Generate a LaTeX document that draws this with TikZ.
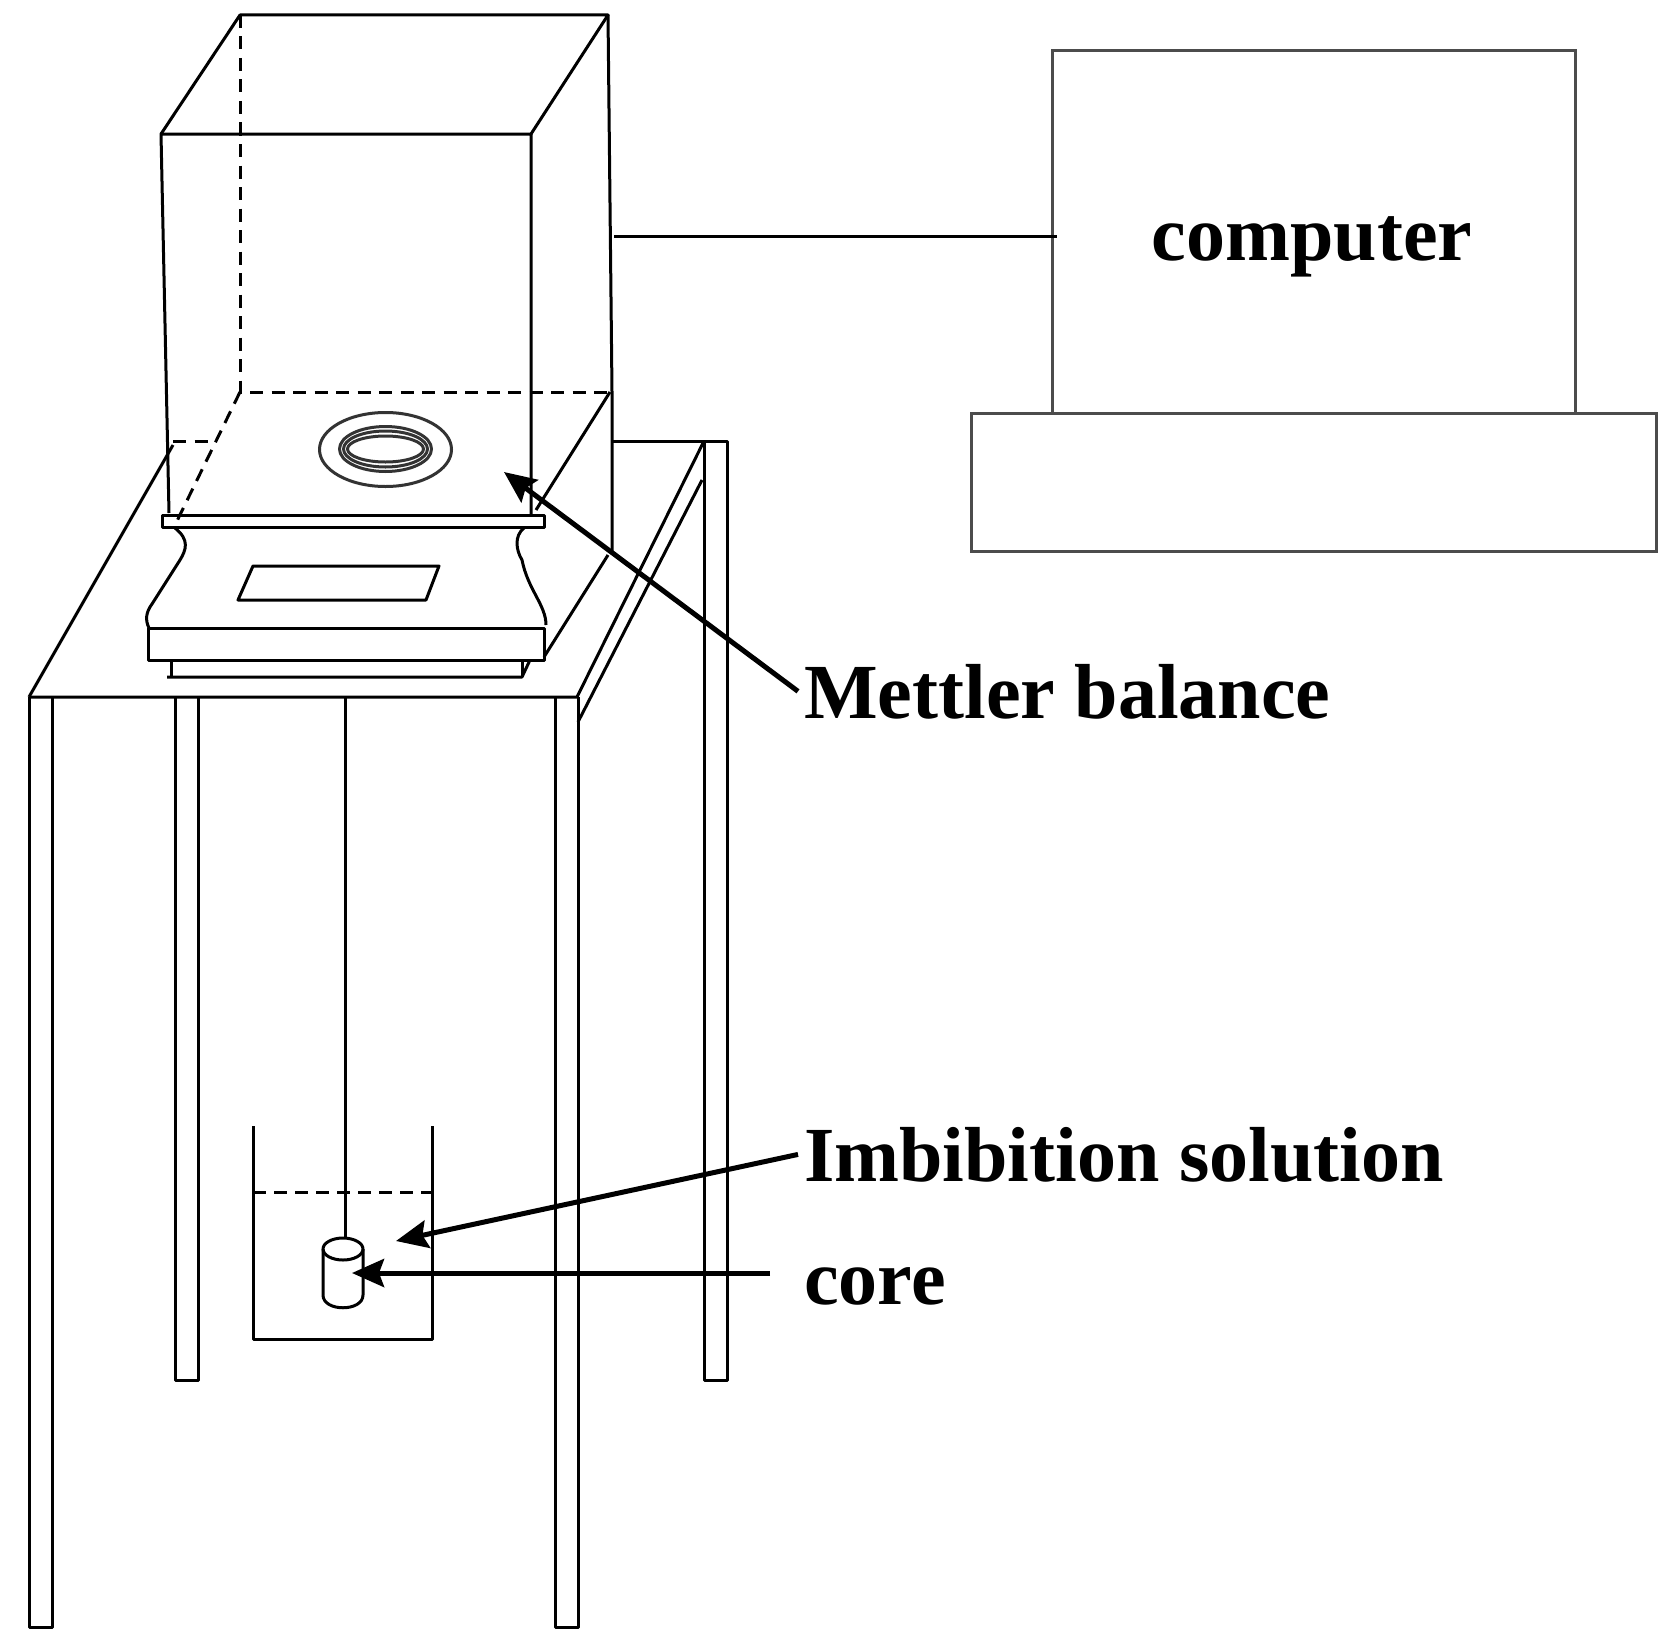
\documentclass[tikz,border=0pt]{standalone}
\usepackage{fontspec}
\setmainfont{Liberation Serif}
\usetikzlibrary{arrows.meta}
\tikzset{
  line/.style={line width=3pt,line join=round},
  greyline/.style={line width=3pt,draw=black!70,outer sep=0pt},
  bigarrow/.style={line width=5pt,-{Stealth[length=32pt,width=28pt,inset=5pt]}},
  label/.style={inner sep=6pt,font=\fontsize{78}{78}\selectfont\bfseries},
  floordash/.style={line,dash pattern=on 13pt off 8.5pt}
}
\begin{document}
\begin{tikzpicture}[x=1pt,y=-1pt]
\useasboundingbox (0,0) rectangle (1669,1643);

% Glass box of the balance
\coordinate (b1) at (161,134);
\coordinate (b2) at (531,134);
\coordinate (b3) at (608,15);
\coordinate (b4) at (240,15);
\coordinate (f1) at (240,392);
\coordinate (f2) at (610,392);

\draw[line] (169,513) -- (b1) -- (b2) -- (531,515);
\draw[line] (b1) -- (b4) -- (b3) -- (b2);
\draw[line] (b3) -- (612,392) -- (612,552);
\draw[floordash] (b4) -- (f1) -- (f2);
\draw[floordash] (f1) -- (176,523);
\draw[floordash] (173,441) -- (210,441);
\draw[line] (f2) -- (536,510);

% Table
\coordinate (t1) at (29,697);
\coordinate (t2) at (577,697);
\coordinate (t3) at (704,441);
\coordinate (t4) at (727,441);

\draw[line] (t1) -- (t2) -- (t3);
\draw[line] (t1) -- (173,445);
\draw[line] (612,441) -- (t4) -- (727,1380) -- (704,1380) -- (t3);
\draw[line] (578,722) -- (702,480);
\draw[line] (608,555) -- (544,657);

% Table legs
\foreach \x/\y in {29/1627,555/1627,175/1380} {
  \draw[line] (\x,697) -- (\x,\y) -- (\x+23,\y) -- (\x+23,697);
}

% Balance
\draw[line] (162,515) rectangle (544,527);
\draw[line] (175,528) .. controls (190,540) and (186,550) .. (180,560)
  -- (152,604) .. controls (146,612) and (145,620) .. (149,628);
\draw[line] (524,528) .. controls (514,536) and (516,550) .. (522,560)
  .. controls (528,590) and (546,605) .. (546,625);
\draw[line] (148,628) rectangle (544,660);
\draw[line] (171,660) -- (171,677);
\draw[line] (167,677) -- (522,677) -- (530,660);
\draw[line] (522,660) -- (522,677);
\draw[line] (253,566) -- (439,566) -- (426,600) -- (238,600) -- cycle;

% Pan
\draw[line,black!80] (385.5,449.5) ellipse (66pt and 37pt);
\draw[line,black!80] (385.5,449) ellipse (46pt and 22.5pt);
\draw[line,black!80] (385.5,449) ellipse (42pt and 18pt);
\draw[line,black!80] (385.5,449) ellipse (38pt and 13pt);

% Wire, beaker and core
\coordinate (w1) at (345,697);
\coordinate (w2) at (345,1238);
\draw[line] (w1) -- (w2);

\draw[line] (253,1126) -- (253,1339) -- (432,1339) -- (432,1126);
\draw[line,dash pattern=on 13pt off 8pt] (253,1192) -- (432,1192);

\draw[line] (323,1249) -- (323,1295) .. controls (323,1312) and (363,1312) .. (363,1295) -- (363,1249);
\draw[line] (343,1249) ellipse (20pt and 11pt);

% Computer
\node[greyline,draw,minimum width=523pt,minimum height=362pt] (monitor) at (1313.5,232) {};
\node[greyline,draw,minimum width=685pt,minimum height=138pt,anchor=north] (keyboard) at (monitor.south) {};
\node[label] (computer) at (1312,247) {computer};

\coordinate (link) at (614,236);
\draw[line] (link) -- ([xshift=5pt]link -| monitor.west);

% Labels
\node[label,anchor=base west] (mettler) at (798,718) {Mettler balance};
\node[label,anchor=base west] (imbibition) at (798,1181) {Imbibition solution};
\node[label,anchor=base west] (core) at (798,1304) {core};

% Arrows
\coordinate (mettlertip) at (504,472);
\coordinate (imbibitiontip) at (396,1241);
\coordinate (coretip) at (352,1273);
\coordinate (corestart) at (770,1273);

\draw[bigarrow] (mettler.west) -- (mettlertip);
\draw[bigarrow] (imbibition.west) -- (imbibitiontip);
\draw[bigarrow] (corestart) -- (coretip);
\end{tikzpicture}
\end{document}
